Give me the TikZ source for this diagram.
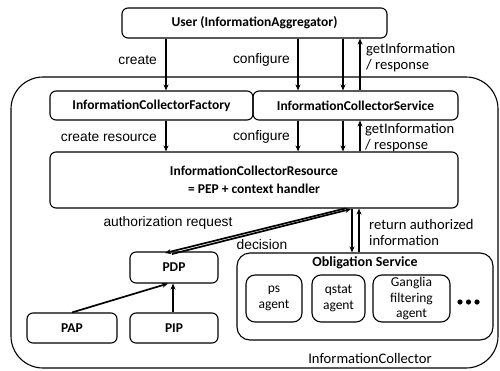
\documentclass[tikz,border=0pt]{standalone}
\usepackage{fontspec}
\setmainfont{Carlito}
\newfontfamily\arialf{Liberation Sans}
\usetikzlibrary{arrows.meta}
\begin{document}
\begin{tikzpicture}[x=1pt,y=-1pt,
  box/.style={draw, line width=1.1pt, rounded corners=6pt, inner sep=0pt, align=center,
    font=\bfseries\fontsize{13.5}{15}\selectfont},
  agentbox/.style={box, rounded corners=9pt, font=\fontsize{13.5}{15.5}\selectfont},
  arr/.style={line width=1.7pt, -{Stealth[length=6pt,width=5pt]}},
  lab/.style={inner sep=0pt, font=\arialf\fontsize{13.8}{15}\selectfont},
  clab/.style={inner sep=0pt, align=left, font=\fontsize{14.6}{15.5}\selectfont},
]
\useasboundingbox (0,0) rectangle (500,370);
% outer container
\draw[line width=1.1pt, rounded corners=32pt] (11,77) rectangle (498,368);

\node[box, minimum width=265pt, minimum height=30pt] (user) at (254.5,23) {User (InformationAggregator)};
\node[box, minimum width=203pt, minimum height=29pt] (fac) at (151.5,105.5) {InformationCollectorFactory};
\node[box, minimum width=205pt, minimum height=29pt] (srv) at (355.5,105.5) {InformationCollectorService};
\node[box, minimum width=408pt, minimum height=56pt, font=\bfseries\fontsize{13.5}{18}\selectfont] (res) at (254,180) {InformationCollectorResource\\= PEP + context handler};
\node[box, minimum width=88pt, minimum height=31pt] (pdp) at (174,267.5) {PDP};
\node[box, minimum width=90pt, minimum height=30pt] (pap) at (72,328) {PAP};
\node[box, minimum width=88pt, minimum height=30pt] (pip) at (174,328) {PIP};
\node[box, rounded corners=13pt, minimum width=256pt, minimum height=87pt] (obl) at (365,296.5) {};
\node[inner sep=0pt, font=\bfseries\fontsize{14}{15}\selectfont] (oblt) at (365,263) {Obligation Service};
\node[agentbox, minimum width=56pt, minimum height=47pt] (ps) at (274,298.5) {ps\\agent};
\node[agentbox, minimum width=53pt, minimum height=47pt] (qs) at (338.5,298.5) {qstat\\agent};
\node[agentbox, minimum width=77pt, minimum height=47pt] (gang) at (411.5,298.5) {Ganglia\\filtering\\agent};
\foreach \dx in {460,468.5,477} \fill (\dx,302) circle (2.6pt);
\node[clab] (ic) at (370,358) {InformationCollector};

% user <-> factory/service
\draw[arr] (user.south -| 166,0) -- (fac.north -| 166,0);
\draw[arr] (user.south -| 298,0) -- (srv.north -| 298,0);
\draw[arr] (user.south -| 343,0) -- (srv.north -| 343,0);
\draw[arr] (srv.north -| 360,0) -- (user.south -| 360,0);
\node[lab, anchor=east] (lcreate) at (157,60) {create};
\node[lab, anchor=east] (lconf1) at (290,60) {configure};
\node[clab, anchor=west] (lget1) at (366,57.5) {getInformation\\/ response};

% factory/service -> resource
\draw[arr] (fac.south -| 166,0) -- (res.north -| 166,0);
\draw[arr] (srv.south -| 298,0) -- (res.north -| 298,0);
\draw[arr] (srv.south -| 343,0) -- (res.north -| 343,0);
\draw[arr] (res.north -| 360,0) -- (srv.south -| 360,0);
\node[lab, anchor=east] (lcres) at (157,137) {create resource};
\node[lab, anchor=east] (lconf2) at (290,137) {configure};
\node[clab, anchor=west] (lget2) at (365,137.5) {getInformation\\/ response};

% resource <-> PDP
\coordinate (ra) at (345,208.5);
\coordinate (pa) at (165,253);
\coordinate (pb) at (172,254);
\coordinate (rb) at (351,209);
\draw[arr] (ra) -- (pa);
\draw[arr] (pb) -- (rb);
\node[lab] (lauth) at (168,223) {authorization request};
\node[lab] (ldec) at (262,245) {decision};

% resource <-> obligation
\draw[arr] (res.south -| 352,0) -- (obl.north -| 352,0);
\draw[arr] (obl.north -| 359,0) -- (res.south -| 359,0);
\node[clab, anchor=west] (lret) at (369,232.5) {return authorized\\information};

% PAP, PIP -> PDP
\draw[arr] (pap.north) -- (pdp.south -| 168,0);
\draw[arr] (pip.north -| 173,0) -- (pdp.south -| 173,0);
\end{tikzpicture}
\end{document}
